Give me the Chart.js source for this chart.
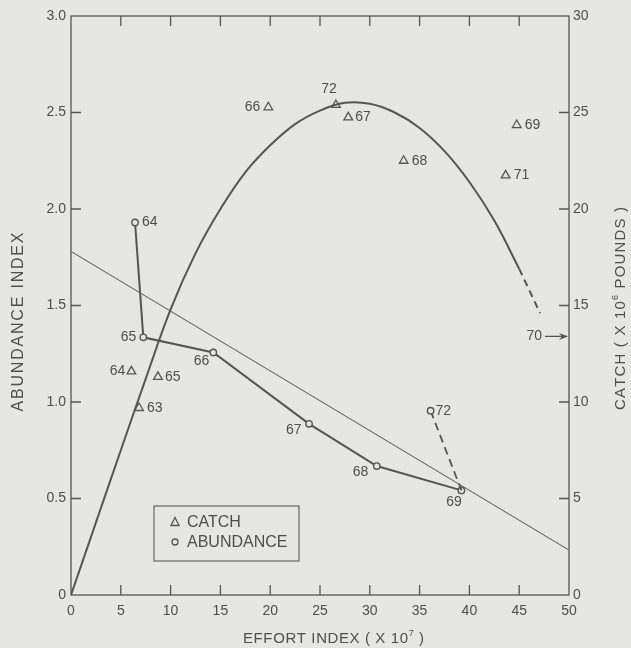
<!DOCTYPE html>
<html><head><meta charset="utf-8">
<script src="https://cdn.jsdelivr.net/npm/chart.js@4.4.0/dist/chart.umd.min.js"></script>
<style>html,body{margin:0;padding:0;background:#e6e6e4;} #wrap{width:631px;height:648px;position:relative;}</style>
</head><body><div id="wrap"><canvas id="c"></canvas></div>
<script>
// ---------- DATA ----------
const xTickValues = [0, 5, 10, 15, 20, 25, 30, 35, 40, 45, 50];
const xTickLabels = ['0', '5', '10', '15', '20', '25', '30', '35', '40', '45', '50'];
const yTickValues = [0, 0.5, 1.0, 1.5, 2.0, 2.5, 3.0];
const yTickLabels = ['0', '0.5', '1.0', '1.5', '2.0', '2.5', '3.0'];
const y2TickValues = [0, 5, 10, 15, 20, 25, 30];
const y2TickLabels = ['0', '5', '10', '15', '20', '25', '30'];

// abundance index (circles), joined 64-69
const abundanceYears = ['64', '65', '66', '67', '68', '69'];
const abundanceEffort = [6.43, 7.26, 14.29, 23.9, 30.7, 39.2];
const abundanceIndex = [1.93, 1.335, 1.257, 0.887, 0.668, 0.542];
// 1972 abundance, joined to 1969 by a dashed line
const abundanceDashYears = ['72', ''];
const abundanceDashEffort = [36.1, 39.2];
const abundanceDashIndex = [0.955, 0.542];

// regression line of abundance on effort
const regressionEffort = [0, 50];
const regressionIndex = [1.78, 0.233];

// catch (triangles), right axis
const catchYears = ['63', '64', '65', '66', '67', '68', '69', '71', '72'];
const catchEffort = [6.83, 6.06, 8.73, 19.81, 27.84, 33.4, 44.75, 43.64, 26.6];
const catchValues = [9.69, 11.59, 11.3, 25.27, 24.75, 22.5, 24.35, 21.74, 25.39];
// 1970 catch lies beyond the effort axis (arrow)
const catch70Year = '70';
const catch70Value = 13.4;

// fitted catch curve
const curveEffort = [0, 2.5, 5, 7.5, 10, 12.5, 15, 17.5, 20, 22.5, 25, 27.5, 30, 32.5, 35, 37.5, 40, 42.5, 45];
const curveCatch = [0, 3.75, 7.5, 11.2, 14.8, 17.7, 20.0, 21.9, 23.3, 24.4, 25.1, 25.5, 25.45, 25.0, 24.2, 23.0, 21.4, 19.4, 16.9];
const curveDashEffort = [45, 47.1];
const curveDashCatch = [16.9, 14.6];

// ---------- STYLE ----------
const BG = '#e6e6e4';
const INK = '#4e4e4e';
const LINE = '#555555';
const FONT = '"Liberation Sans", Arial, sans-serif';

// label placement (px offsets from the mark, and alignment)
const catchLabelPlace = {
  '63': [8, 0, 'left'], '64': [-6, 0, 'right'], '65': [7, 0, 'left'], '66': [-8, 0, 'right'],
  '67': [7, 0, 'left'], '68': [8, 0, 'left'], '69': [8, 0, 'left'], '71': [8, 0, 'left'], '72': [-7, -16, 'center']
};
const abundanceLabelPlace = {
  '64': [7, 0, 'left'], '65': [-7, 0, 'right'], '66': [-4, 8.5, 'right'], '67': [-7.5, 6, 'right'],
  '68': [-8.5, 6, 'right'], '69': [-7.5, 12, 'center'], '72': [5, 0, 'left']
};

const pts = (xs, ys) => xs.map((x, i) => ({ x, y: ys[i] }));

const bgPlugin = {
  id: 'bg',
  beforeDraw(chart) {
    const ctx = chart.ctx;
    ctx.save();
    ctx.fillStyle = BG;
    ctx.fillRect(0, 0, chart.width, chart.height);
    ctx.restore();
  }
};

const framePlugin = {
  id: 'frame',
  beforeDatasetsDraw(chart) {
    const { ctx, chartArea: a, scales } = chart;
    ctx.save();
    ctx.strokeStyle = LINE;
    ctx.lineWidth = 1.3;
    ctx.strokeRect(a.left, a.top, a.right - a.left, a.bottom - a.top);
    const L = 10;
    ctx.beginPath();
    xTickValues.forEach(v => {
      if (v <= 0 || v >= 50) return;
      const px = scales.x.getPixelForValue(v);
      ctx.moveTo(px, a.bottom); ctx.lineTo(px, a.bottom - L);
      ctx.moveTo(px, a.top); ctx.lineTo(px, a.top + L);
    });
    yTickValues.forEach(v => {
      if (v <= 0 || v >= 3) return;
      const py = scales.y.getPixelForValue(v);
      ctx.moveTo(a.left, py); ctx.lineTo(a.left + L, py);
    });
    y2TickValues.forEach(v => {
      if (v <= 0 || v >= 30) return;
      const py = scales.y2.getPixelForValue(v);
      ctx.moveTo(a.right, py); ctx.lineTo(a.right - L, py);
    });
    ctx.stroke();
    ctx.restore();
  }
};

function drawSpaced(ctx, segs, cx, cy, size, target, rot) {
  ctx.save();
  ctx.translate(cx, cy);
  if (rot) ctx.rotate(rot);
  const chars = [];
  segs.forEach(s => { for (const ch of s.t) chars.push({ ch, sup: !!s.sup }); });
  let natural = 0;
  chars.forEach(c => {
    ctx.font = (c.sup ? Math.round(size * 0.62) : size) + 'px ' + FONT;
    c.w = ctx.measureText(c.ch).width;
    natural += c.w;
  });
  const sp = (target - natural) / (chars.length - 1);
  let x = -target / 2;
  ctx.textBaseline = 'middle';
  ctx.textAlign = 'left';
  ctx.fillStyle = INK;
  chars.forEach(c => {
    ctx.font = (c.sup ? Math.round(size * 0.62) : size) + 'px ' + FONT;
    ctx.fillText(c.ch, x, c.sup ? -size * 0.38 : 0);
    x += c.w + sp;
  });
  ctx.restore();
}

const textPlugin = {
  id: 'texts',
  afterDatasetsDraw(chart) {
    const { ctx, chartArea: a, scales } = chart;
    ctx.save();
    ctx.fillStyle = INK;
    ctx.font = '14px ' + FONT;
    ctx.textBaseline = 'middle';
    // catch labels
    catchYears.forEach((yr, i) => {
      const p = catchLabelPlace[yr];
      const px = scales.x.getPixelForValue(catchEffort[i]);
      const py = scales.y2.getPixelForValue(catchValues[i]);
      ctx.textAlign = p[2];
      ctx.fillText(yr, px + p[0], py + p[1]);
    });
    // abundance labels
    abundanceYears.forEach((yr, i) => {
      const p = abundanceLabelPlace[yr];
      const px = scales.x.getPixelForValue(abundanceEffort[i]);
      const py = scales.y.getPixelForValue(abundanceIndex[i]);
      ctx.textAlign = p[2];
      ctx.fillText(yr, px + p[0], py + p[1]);
    });
    abundanceDashYears.forEach((yr, i) => {
      if (!yr) return;
      const p = abundanceLabelPlace[yr];
      const px = scales.x.getPixelForValue(abundanceDashEffort[i]);
      const py = scales.y.getPixelForValue(abundanceDashIndex[i]);
      ctx.textAlign = p[2];
      ctx.fillText(yr, px + p[0], py + p[1]);
    });
    // 1970 catch arrow
    const y70 = scales.y2.getPixelForValue(catch70Value);
    ctx.textAlign = 'right';
    ctx.fillText(catch70Year, a.right - 27, y70);
    ctx.strokeStyle = LINE;
    ctx.lineWidth = 1.3;
    ctx.beginPath();
    ctx.moveTo(a.right - 24, y70); ctx.lineTo(a.right - 2, y70);
    ctx.stroke();
    ctx.fillStyle = LINE;
    ctx.beginPath();
    ctx.moveTo(a.right - 1, y70); ctx.lineTo(a.right - 10, y70 - 3.5); ctx.lineTo(a.right - 7, y70); ctx.lineTo(a.right - 10, y70 + 3.5);
    ctx.closePath(); ctx.fill();

    // legend box
    const lx = a.left + 83, ly = a.top + 490, lw = 145, lh = 55;
    ctx.strokeStyle = '#666';
    ctx.lineWidth = 1.2;
    ctx.strokeRect(lx, ly, lw, lh);
    ctx.lineWidth = 1.3;
    ctx.strokeStyle = LINE;
    const sx = lx + 21;
    const r1 = ly + 16, r2 = ly + 36;
    ctx.beginPath();
    ctx.moveTo(sx, r1 - 4.5); ctx.lineTo(sx + 4, r1 + 3.5); ctx.lineTo(sx - 4, r1 + 3.5); ctx.closePath();
    ctx.stroke();
    ctx.beginPath(); ctx.arc(sx, r2, 3, 0, Math.PI * 2); ctx.stroke();
    ctx.fillStyle = INK;
    ctx.font = '16px ' + FONT;
    ctx.textAlign = 'left';
    ctx.fillText('CATCH', lx + 33, r1 + 1);
    ctx.fillText('ABUNDANCE', lx + 33, r2 + 1);
    ctx.restore();

    // axis titles
    drawSpaced(ctx, [{ t: 'EFFORT INDEX ( X 10' }, { t: '7', sup: true }, { t: ' )' }], 333.5, 639, 15, 181, 0);
    drawSpaced(ctx, [{ t: 'ABUNDANCE INDEX' }], 19, 322, 16, 179, -Math.PI / 2);
    drawSpaced(ctx, [{ t: 'CATCH ( X 10' }, { t: '6', sup: true }, { t: ' POUNDS )' }], 621, 308.5, 15, 203, -Math.PI / 2);
  }
};

const tickFont = { family: FONT, size: 14 };

new Chart(document.getElementById('c'), {
  type: 'scatter',
  data: {
    datasets: [
      { label: 'curve', data: pts(curveEffort, curveCatch), yAxisID: 'y2', showLine: true, borderColor: LINE, borderWidth: 2, pointRadius: 0, tension: 0.4 },
      { label: 'curveDash', data: pts(curveDashEffort, curveDashCatch), yAxisID: 'y2', showLine: true, borderColor: LINE, borderWidth: 2, borderDash: [7, 5], pointRadius: 0 },
      { label: 'regression', data: pts(regressionEffort, regressionIndex), yAxisID: 'y', showLine: true, borderColor: '#666', borderWidth: 1.1, pointRadius: 0 },
      { label: 'abundanceDash', data: pts(abundanceDashEffort, abundanceDashIndex), yAxisID: 'y', showLine: true, borderColor: LINE, borderWidth: 1.8, borderDash: [8, 5], pointRadius: [3.2, 0], pointBackgroundColor: BG, pointBorderColor: LINE, pointBorderWidth: 1.4 },
      { label: 'abundance', data: pts(abundanceEffort, abundanceIndex), yAxisID: 'y', showLine: true, borderColor: LINE, borderWidth: 2, pointRadius: 3.2, pointBackgroundColor: BG, pointBorderColor: LINE, pointBorderWidth: 1.4 },
      { label: 'catch', data: pts(catchEffort, catchValues), yAxisID: 'y2', showLine: false, pointStyle: 'triangle', pointRadius: 5, pointBackgroundColor: 'rgba(0,0,0,0)', pointBorderColor: LINE, pointBorderWidth: 1.3 }
    ]
  },
  options: {
    responsive: true,
    maintainAspectRatio: false,
    animation: false,
    events: [],
    layout: { padding: { top: 16, left: 0, right: 0, bottom: 0 } },
    plugins: { legend: { display: false }, tooltip: { enabled: false } },
    scales: {
      x: {
        type: 'linear', position: 'bottom', min: 0, max: 50,
        afterBuildTicks: s => { s.ticks = xTickValues.map(v => ({ value: v })); },
        ticks: { color: INK, font: tickFont, padding: 8, maxRotation: 0, autoSkip: false, callback: (v, i) => xTickLabels[i] },
        grid: { drawOnChartArea: false, drawTicks: false },
        border: { display: false },
        afterFit: s => { s.height = 53; }
      },
      y: {
        type: 'linear', position: 'left', min: 0, max: 3,
        afterBuildTicks: s => { s.ticks = yTickValues.map(v => ({ value: v })); },
        ticks: { color: INK, font: tickFont, padding: 5, autoSkip: false, callback: (v, i) => yTickLabels[i] },
        grid: { drawOnChartArea: false, drawTicks: false },
        border: { display: false },
        afterFit: s => { s.width = 71; }
      },
      y2: {
        type: 'linear', position: 'right', min: 0, max: 30,
        afterBuildTicks: s => { s.ticks = y2TickValues.map(v => ({ value: v })); },
        ticks: { color: INK, font: tickFont, padding: 4, autoSkip: false, callback: (v, i) => y2TickLabels[i] },
        grid: { drawOnChartArea: false, drawTicks: false },
        border: { display: false },
        afterFit: s => { s.width = 62; }
      }
    }
  },
  plugins: [bgPlugin, framePlugin, textPlugin]
});
</script></body></html>
